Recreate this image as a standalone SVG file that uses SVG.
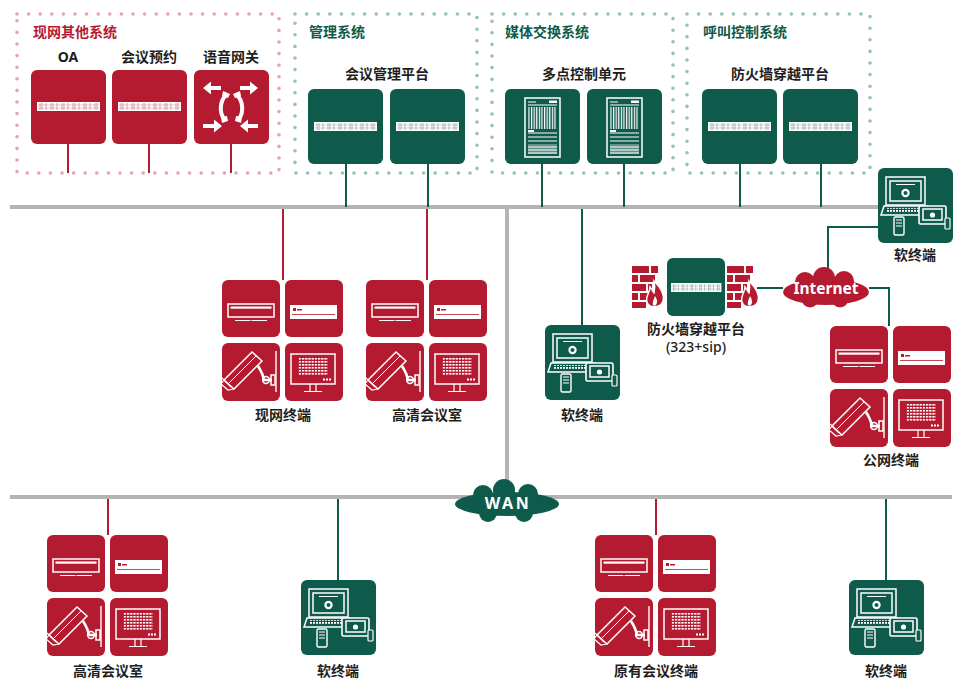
<svg xmlns="http://www.w3.org/2000/svg" xmlns:xlink="http://www.w3.org/1999/xlink" width="953" height="681" viewBox="0 0 953 681">
  <style>
    text { font-family: "Noto Sans", "Noto Sans CJK SC", sans-serif; font-weight: bold; }
    .lbl { font-size: 14px; fill: #1e1e1e; text-anchor: middle; }
    .ttl-r { font-size: 14px; fill: #b41b31; }
    .ttl-g { font-size: 14px; fill: #0e5a4b; }
    .red { fill: #b41b31; }
    .grn { fill: #0e5a4b; }
    .bus { stroke: #b4b4b4; stroke-width: 4; fill: none; }
    .lr { stroke: #b41b31; stroke-width: 2; fill: none; }
    .lg { stroke: #0e5a4b; stroke-width: 2; fill: none; }
    .dot-r { fill: none; stroke: #e7a3ac; stroke-width: 3.6; stroke-linecap: round; stroke-dasharray: 0 11.6; }
    .dot-g { fill: none; stroke: #93c2b6; stroke-width: 3.6; stroke-linecap: round; stroke-dasharray: 0 11.6; }
    .w { fill: none; stroke: #fff; stroke-width: 1.5; }
    .wf { fill: #fff; }
    .cloud-t { font-family: "Noto Sans", "Liberation Sans", sans-serif; fill: #fff; text-anchor: middle; }
  </style>
  <defs>
    <!-- rack unit strip, line colour taken from the use element -->
    <g id="strip">
      <rect width="63" height="9" fill="#fff"/>
      <path d="M1 3H62M1 6H62" stroke="currentColor" stroke-width="0.5" opacity="0.7"/>
      <path d="M3 1V8M5 1V8M9 1V8M14 1V8M16 1V8M20 1V8M25 1V8M27 1V8M31 1V8M36 1V8M38 1V8M42 1V8M47 1V8M49 1V8M53 1V8M58 1V8M60 1V8" stroke="currentColor" stroke-width="0.7" opacity="0.8"/>
    </g>
    <pattern id="gridDots" width="3.2" height="3" patternUnits="userSpaceOnUse">
      <rect width="2.2" height="1.6" fill="#fff"/>
    </pattern>
    <pattern id="keys" width="3" height="3" patternUnits="userSpaceOnUse">
      <rect width="2" height="1.8" fill="#fff"/>
    </pattern>
    <pattern id="bars" width="2.6" height="4" patternUnits="userSpaceOnUse">
      <rect width="1.2" height="4" fill="#fff"/>
    </pattern>

    <!-- server tile, green -->
    <g id="server">
      <rect width="75" height="75" rx="6" class="grn"/>
      <use href="#strip" x="6" y="33" color="#6f8f86"/>
    </g>
    <!-- server tile, red -->
    <g id="serverR">
      <rect width="75" height="74" rx="6" class="red"/>
      <use href="#strip" x="6" y="32" color="#c75b6a"/>
    </g>
    <!-- MCU chassis tile -->
    <g id="mcu">
      <rect width="75" height="75" rx="6" class="grn"/>
      <rect x="20" y="9" width="35" height="59" class="w"/>
      <path d="M23 13H31M23 16H52M23 44H52M23 48H52M23 52H52M23 58H52M23 61H52M23 64H52" stroke="#fff" stroke-width="1"/>
      <rect x="44" y="11.5" width="8" height="2.5" class="wf"/>
      <rect x="23" y="18" width="29" height="22" fill="url(#bars)"/>
      <rect x="23" y="41" width="6" height="2" class="wf"/>
      <rect x="23" y="55" width="29" height="10" fill="#fff" opacity="0.35"/>
    </g>
    <!-- voice gateway tile -->
    <g id="gateway">
      <rect width="75" height="74" rx="6" class="red"/>
      <path class="wf" d="M9 18L17 11.5V16H27V20H17V24.5Z"/>
      <path class="wf" d="M64 18L56 11.5V16H46V20H56V24.5Z"/>
      <path class="wf" d="M28 56L20 49.5V54H9V58H20V62.5Z"/>
      <path class="wf" d="M46 56L54 49.5V54H64V58H54V62.5Z"/>
      <path d="M32 25C26 31 25 42 30 49" stroke="#fff" stroke-width="4" fill="none" stroke-linecap="round"/>
      <path d="M43 25C49 31 50 42 45 49" stroke="#fff" stroke-width="4" fill="none" stroke-linecap="round"/>
      <path class="wf" d="M29 21L36 24L34 28L28 26Z M27 47L33 46L34 51L28 53Z"/>
      <path class="wf" d="M46 21L39 24L41 28L47 26Z M48 47L42 46L41 51L47 53Z"/>
    </g>

    <!-- 2x2 conference terminal tiles -->
    <g id="term">
      <rect width="58" height="57" rx="6" class="red"/>
      <rect x="63" width="58" height="57" rx="6" class="red"/>
      <rect y="63" width="58" height="58" rx="6" class="red"/>
      <rect x="63" y="63" width="58" height="58" rx="6" class="red"/>
      <!-- codec -->
      <rect x="6" y="24" width="46" height="13" class="w" stroke-width="1.3"/>
      <rect x="8.5" y="26.5" width="41" height="2.2" class="wf"/>
      <path d="M13 40.5H28.5M29.5 40.5H45" stroke="#fff" stroke-width="1.2"/>
      <!-- codec box with badge -->
      <rect x="68" y="25" width="47" height="14" class="wf"/>
      <path d="M70 34.5H113" stroke="#b41b31" stroke-width="0.8"/>
      <rect x="71" y="28" width="3" height="3" class="red"/>
      <rect x="75" y="29" width="5" height="1.5" class="red"/>
      <!-- camera on wall arm -->
      <path d="M54 71V112" stroke="#fff" stroke-width="1.4"/>
      <path d="M2 100L30 72L40 81L12 109Z" class="w" stroke-width="1.4"/>
      <path d="M6 104L34 76" stroke="#fff" stroke-width="1"/>
      <path d="M0 98L9 107M2 100L-1 104L6 110L12 109" stroke="#fff" stroke-width="1.2" fill="none"/>
      <path d="M36 86Q41 94 42 100L50 100" stroke="#fff" stroke-width="2.6" fill="none"/>
      <circle cx="44" cy="100" r="3.4" class="w" stroke-width="1.2"/>
      <rect x="49" y="95" width="4" height="10" class="w" stroke-width="1"/>
      <!-- monitor -->
      <rect x="69" y="74" width="44" height="30" class="w" stroke-width="1.3"/>
      <rect x="76" y="78" width="30" height="18" fill="url(#gridDots)"/>
      <rect x="101" y="98.5" width="2" height="2" class="wf"/>
      <rect x="104" y="98.5" width="2" height="2" class="wf"/>
      <rect x="107" y="98.5" width="2" height="2" class="wf"/>
      <path d="M88 104V111M94 104V111M82 111.5H100" stroke="#fff" stroke-width="1.2"/>
    </g>

    <!-- soft client tile: laptop, tablet, phone -->
    <g id="soft">
      <rect width="75" height="75" rx="6" class="grn"/>
      <rect x="8" y="9" width="39" height="28" class="w" stroke-width="1.8"/>
      <rect x="12" y="13" width="31" height="20" class="w" stroke-width="1"/>
      <path d="M18 16.5H37" stroke="#fff" stroke-width="1"/>
      <circle cx="27.5" cy="25" r="4.2" class="wf"/>
      <circle cx="27.5" cy="25" r="2" class="grn"/>
      <path d="M6 38H49L52 47H3Z" class="w" stroke-width="1.2"/>
      <rect x="9" y="40" width="38" height="5" fill="url(#keys)"/>
      <rect x="16" y="49" width="10" height="18" rx="1.5" class="grn" stroke="#fff" stroke-width="1.4"/>
      <path d="M18 52H24M18 55H24M18 58H24" stroke="#fff" stroke-width="1"/>
      <rect x="41" y="38" width="27" height="18" rx="1.5" class="grn" stroke="#fff" stroke-width="1.6"/>
      <rect x="45" y="41" width="19" height="11" class="w" stroke-width="1"/>
      <circle cx="54.5" cy="47" r="2.6" class="wf"/>
      <rect x="67" y="50" width="5" height="11" rx="1" class="grn" stroke="#fff" stroke-width="1.2"/>
    </g>

    <!-- brick wall with flame -->
    <g id="firewall">
      <path class="red" d="M0 0H17V7H0Z M19 0H26V7H19Z M0 9H6V16H0Z M8 9H23V16H8Z M0 18H14V25H0Z M16 18H20V25H16Z M0 27H6V34H0Z M8 27H16V34H8Z M0 36H14V42H0Z"/>
      <path d="M22 15C29 22 33 28 31 35C29 42 17 43 15 36C13 30 18 27 18 21C20 24 21 26 22 27C23 23 23 19 22 15Z" class="red" stroke="#fff" stroke-width="1.4"/>
      <path d="M23 30C25 33 26 36 24 39C22 41 20 39 21 36C21 34 22 33 23 30Z" class="wf"/>
    </g>
  </defs>

  <!-- system areas -->
  <g id="area-legacy">
    <rect x="17" y="14" width="262" height="159" class="dot-r"/>
    <text x="33" y="37" class="ttl-r">现网其他系统</text>
  </g>
  <g id="area-mgmt">
    <rect x="295" y="14" width="182" height="159" class="dot-g"/>
    <text x="309" y="37" class="ttl-g">管理系统</text>
  </g>
  <g id="area-media">
    <rect x="492" y="14" width="181" height="159" class="dot-g"/>
    <text x="505" y="37" class="ttl-g">媒体交换系统</text>
  </g>
  <g id="area-call">
    <rect x="687" y="14" width="183" height="159" class="dot-g"/>
    <text x="703" y="37" class="ttl-g">呼叫控制系统</text>
  </g>

  <!-- connectors -->
  <g id="connectors">
    <path class="bus" d="M10 207H880"/>
    <path class="bus" d="M507 207V490"/>
    <path class="bus" d="M10 497H952"/>
    <path class="lr" d="M68 144V173M149 144V173M231 144V173"/>
    <path class="lg" d="M346 164V207M428 164V207M542 164V207M624 164V207M740 164V207M821 164V207"/>
    <path class="lr" d="M283 209V280M427 209V280"/>
    <path class="lg" d="M582 209V325"/>
    <path class="lg" d="M757 288H783"/>
    <path class="lg" d="M828 268V227H878"/>
    <path class="lg" d="M869 288H889V326"/>
    <path class="lr" d="M108 499V535M656 499V535"/>
    <path class="lg" d="M338 499V580M886 499V580"/>
  </g>

  <!-- legacy systems -->
  <g id="oa">
    <text x="68" y="62" class="lbl">OA</text>
    <use href="#serverR" x="31" y="70"/>
  </g>
  <g id="booking">
    <text x="149" y="62" class="lbl">会议预约</text>
    <use href="#serverR" x="112" y="70"/>
  </g>
  <g id="voice-gateway">
    <text x="231" y="62" class="lbl">语音网关</text>
    <use href="#gateway" x="194" y="70"/>
  </g>

  <!-- management platform -->
  <g id="mgmt-platform">
    <text x="387" y="79" class="lbl">会议管理平台</text>
    <use href="#server" x="308" y="89"/>
    <use href="#server" x="390" y="89"/>
  </g>

  <!-- MCU -->
  <g id="mcu-unit">
    <text x="584" y="79" class="lbl">多点控制单元</text>
    <use href="#mcu" x="505" y="89"/>
    <use href="#mcu" x="587" y="89"/>
  </g>

  <!-- call control -->
  <g id="traversal-platform">
    <text x="780" y="79" class="lbl">防火墙穿越平台</text>
    <use href="#server" x="702" y="89"/>
    <use href="#server" x="783" y="89"/>
  </g>

  <!-- terminals on the upper bus -->
  <g id="legacy-terminal">
    <use href="#term" x="222" y="280"/>
    <text x="283" y="420" class="lbl">现网终端</text>
  </g>
  <g id="hd-room-1">
    <use href="#term" x="366" y="280"/>
    <text x="427" y="420" class="lbl">高清会议室</text>
  </g>
  <g id="soft-1">
    <use href="#soft" x="545" y="325"/>
    <text x="582" y="420" class="lbl">软终端</text>
  </g>

  <!-- firewall traversal with internet -->
  <g id="traversal-edge">
    <use href="#firewall" x="632" y="266"/>
    <g transform="translate(667 258)">
      <rect width="58" height="58" rx="6" class="grn"/>
      <use href="#strip" x="4" y="25" transform="translate(4 0) scale(0.8 1) translate(-4 0)" color="#6f8f86"/>
    </g>
    <use href="#firewall" x="727" y="266"/>
    <text x="696" y="334" class="lbl">防火墙穿越平台</text>
    <text x="696" y="352" class="lbl" style="font-weight:500">(323+sip)</text>
  </g>
  <g id="internet">
    <g class="red">
      <ellipse cx="826" cy="292" rx="43" ry="13"/>
      <circle cx="805" cy="282" r="10"/>
      <circle cx="824" cy="278" r="11"/>
      <circle cx="844" cy="281" r="10"/>
      <circle cx="810" cy="299" r="8.5"/>
      <circle cx="840" cy="299" r="8.5"/>
    </g>
    <text x="826" y="294" class="cloud-t" font-size="15.5">Internet</text>
  </g>
  <g id="soft-2">
    <use href="#soft" x="878" y="168"/>
    <text x="915" y="260" class="lbl">软终端</text>
  </g>
  <g id="public-terminal">
    <use href="#term" x="830" y="326"/>
    <text x="891" y="465" class="lbl">公网终端</text>
  </g>

  <!-- WAN -->
  <g id="wan">
    <g class="grn">
      <ellipse cx="507" cy="504" rx="52" ry="12"/>
      <circle cx="483" cy="495" r="10"/>
      <circle cx="504" cy="490" r="11"/>
      <circle cx="528" cy="494" r="10"/>
      <circle cx="488" cy="513" r="9"/>
      <circle cx="524" cy="513" r="9"/>
    </g>
    <text x="508" y="509" class="cloud-t" font-size="16" letter-spacing="2.5">WAN</text>
  </g>

  <!-- terminals on the lower bus -->
  <g id="hd-room-2">
    <use href="#term" x="47" y="535"/>
    <text x="108" y="676" class="lbl">高清会议室</text>
  </g>
  <g id="soft-3">
    <use href="#soft" x="301" y="580"/>
    <text x="338" y="676" class="lbl">软终端</text>
  </g>
  <g id="existing-terminal">
    <use href="#term" x="595" y="535"/>
    <text x="656" y="676" class="lbl">原有会议终端</text>
  </g>
  <g id="soft-4">
    <use href="#soft" x="849" y="580"/>
    <text x="886" y="676" class="lbl">软终端</text>
  </g>
</svg>
